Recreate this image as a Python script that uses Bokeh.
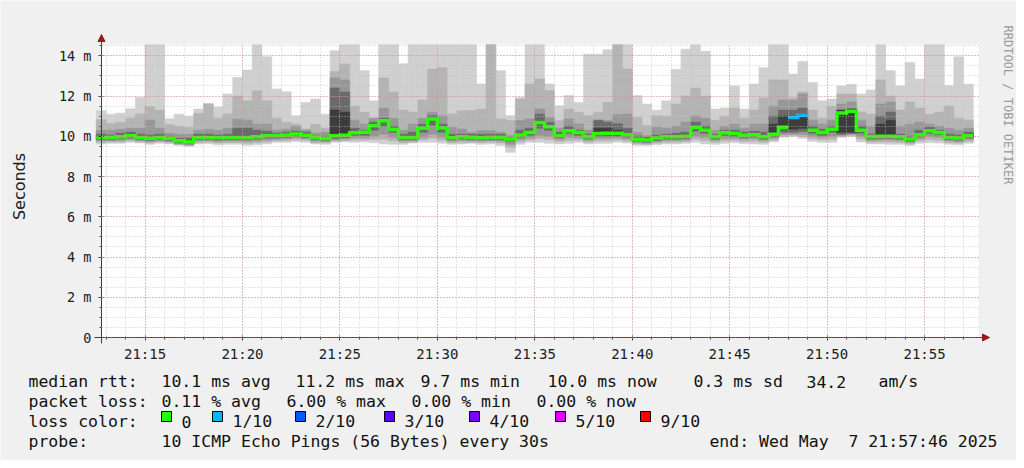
import math
import datetime as dt
from bokeh.plotting import figure
from bokeh.models import (Range1d, FixedTicker, DatetimeTickFormatter, Arrow, NormalHead)
from bokeh.embed import file_html
from bokeh.resources import INLINE
from bokeh.core.properties import value

# ---------------- data (30 s steps starting 21:12:30) ----------------
step_seconds = 30
first_step = (21, 12, 30)

median = [9.94, 9.94, 9.98, 10.02, 9.94, 9.90, 9.94, 9.90, 9.78, 9.72,
          9.94, 9.94, 9.92, 9.94, 9.94, 9.94, 9.97, 10.02, 10.02, 10.05,
          10.11, 10.05, 9.94, 9.89, 10.02, 10.05, 10.18, 10.20, 10.52, 10.77,
          10.34, 9.94, 9.94, 10.40, 10.86, 10.41, 9.93, 9.98, 9.95, 9.93,
          9.95, 9.95, 9.86, 10.06, 10.19, 10.69, 10.47, 10.03, 10.28, 10.19,
          9.98, 10.14, 10.15, 10.15, 10.08, 9.85, 9.81, 9.91, 9.97, 9.97,
          10.00, 10.45, 10.30, 9.97, 10.18, 10.14, 10.05, 10.07, 9.97, 10.10,
          10.45, 10.93, 11.05, 10.30, 10.19, 10.35, 11.15, 11.24, 10.30, 9.97,
          10.00, 10.00, 9.97, 9.86, 10.08, 10.28, 10.19, 9.94, 9.91, 10.02]

loss = [0, 0, 0, 0, 0, 0, 0, 0, 0, 0,
        0, 0, 0, 0, 0, 0, 0, 0, 0, 0,
        0, 0, 0, 0, 0, 0, 0, 0, 0, 0,
        0, 0, 0, 0, 0, 0, 0, 0, 0, 0,
        0, 0, 0, 0, 0, 0, 0, 0, 0, 0,
        0, 0, 0, 0, 0, 0, 0, 0, 0, 0,
        0, 0, 0, 0, 0, 0, 0, 0, 0, 0,
        0, 1, 1, 0, 0, 0, 0, 0, 0, 0,
        0, 0, 0, 0, 0, 0, 0, 0, 0, 0]

ping10 = [11.27, 11.10, 11.15, 11.37, 11.93, 14.55, 14.55, 10.87, 11.10, 11.00,
          11.35, 11.63, 11.45, 12.10, 12.92, 13.29, 14.55, 13.95, 12.35, 12.21,
          11.02, 11.68, 11.85, 11.10, 14.25, 14.55, 14.55, 13.26, 11.76, 14.55,
          14.55, 13.60, 14.55, 14.55, 14.55, 14.55, 14.55, 14.55, 14.55, 12.60,
          14.55, 13.26, 11.02, 11.93, 14.55, 14.55, 12.60, 11.52, 12.02, 11.68,
          14.08, 14.08, 14.30, 14.55, 14.55, 12.02, 11.60, 11.30, 11.76, 13.33,
          14.33, 14.55, 14.22, 11.35, 11.40, 12.50, 11.35, 12.60, 13.41, 14.55,
          14.55, 13.09, 13.72, 12.67, 11.76, 11.85, 12.50, 12.58, 12.10, 12.30,
          14.55, 13.26, 12.50, 13.67, 12.84, 14.55, 14.55, 12.51, 13.95, 12.59]
ping9 = [10.82, 10.64, 10.70, 10.90, 11.10, 11.47, 11.30, 10.57, 10.50, 10.45,
         11.13, 11.60, 10.90, 11.10, 12.00, 11.76, 12.26, 11.76, 10.90, 10.70,
         10.60, 10.36, 10.60, 10.40, 13.22, 13.59, 11.50, 11.20, 10.90, 12.90,
         12.20, 11.30, 11.20, 11.80, 13.34, 13.40, 11.10, 11.27, 11.27, 11.35,
         14.55, 10.86, 10.78, 11.85, 12.60, 12.84, 12.27, 10.78, 11.35, 11.19,
         11.02, 11.19, 11.68, 14.55, 13.34, 10.94, 10.53, 11.02, 11.00, 11.60,
         12.00, 12.40, 12.00, 10.80, 11.00, 11.40, 10.90, 11.30, 11.90, 12.80,
         12.80, 11.90, 12.20, 11.30, 10.90, 11.50, 12.10, 12.10, 11.20, 11.10,
         12.80, 12.00, 11.30, 11.70, 11.40, 11.10, 11.20, 11.50, 10.90, 10.80]
ping8 = [10.30, 10.30, 10.35, 10.40, 10.40, 10.80, 10.40, 10.15, 10.10, 10.10,
         10.30, 10.35, 10.30, 10.40, 10.85, 10.80, 10.60, 10.60, 10.30, 10.35,
         10.50, 10.30, 10.15, 10.20, 12.90, 12.80, 10.80, 10.60, 10.90, 11.40,
         10.90, 10.30, 10.60, 10.90, 11.19, 11.02, 10.45, 10.36, 10.19, 10.28,
         10.28, 10.19, 10.03, 10.78, 10.86, 11.35, 10.94, 10.40, 10.86, 10.61,
         10.31, 10.78, 10.78, 11.07, 11.10, 10.19, 10.03, 10.45, 10.40, 10.50,
         10.70, 11.00, 10.90, 10.30, 10.50, 10.60, 10.40, 10.60, 10.60, 11.50,
         11.80, 11.80, 12.10, 10.80, 10.60, 10.80, 11.60, 11.70, 10.80, 10.50,
         11.60, 11.70, 10.50, 10.60, 10.70, 10.60, 10.50, 10.40, 10.30, 10.40]
ping7 = [10.10, 10.05, 10.15, 10.20, 10.10, 10.05, 10.10, 10.00, 9.90, 9.90,
         10.10, 10.10, 10.05, 10.10, 10.40, 10.40, 10.30, 10.25, 10.15, 10.20,
         10.25, 10.20, 10.00, 10.00, 12.40, 12.20, 10.40, 10.30, 10.70, 10.90,
         10.50, 10.10, 10.20, 10.60, 11.02, 10.60, 10.10, 10.10, 10.10, 10.10,
         10.10, 10.10, 9.95, 10.30, 10.40, 11.10, 10.70, 10.20, 10.50, 10.30,
         10.10, 10.80, 10.70, 10.62, 10.40, 10.00, 9.95, 10.05, 10.10, 10.15,
         10.20, 10.70, 10.50, 10.10, 10.30, 10.30, 10.20, 10.25, 10.20, 11.00,
         11.30, 11.30, 11.40, 10.50, 10.35, 10.50, 11.30, 11.35, 10.50, 10.10,
         11.00, 11.20, 10.10, 10.00, 10.30, 10.45, 10.30, 10.10, 10.05, 10.20]
ping6 = [9.99, 9.99, 10.03, 10.07, 9.99, 9.95, 9.99, 9.95, 9.83, 9.78,
         9.99, 9.99, 9.97, 9.99, 10.00, 10.00, 10.03, 10.08, 10.07, 10.10,
         10.16, 10.10, 9.99, 9.95, 11.30, 11.20, 10.23, 10.25, 10.57, 10.82,
         10.39, 9.99, 9.99, 10.45, 10.92, 10.47, 9.98, 10.03, 10.00, 9.98,
         10.00, 10.00, 9.91, 10.11, 10.24, 10.75, 10.52, 10.08, 10.33, 10.24,
         10.03, 10.40, 10.40, 10.30, 10.13, 9.90, 9.86, 9.96, 10.02, 10.02,
         10.05, 10.50, 10.35, 10.02, 10.23, 10.19, 10.10, 10.12, 10.02, 10.60,
         11.00, 11.00, 11.10, 10.35, 10.24, 10.40, 11.30, 11.35, 10.35, 10.02,
         10.60, 10.80, 10.02, 9.91, 10.13, 10.33, 10.24, 9.99, 9.96, 10.07]
ping5 = [9.89, 9.89, 9.93, 9.97, 9.89, 9.85, 9.89, 9.85, 9.73, 9.67,
         9.89, 9.89, 9.87, 9.89, 9.89, 9.89, 9.92, 9.97, 9.97, 10.00,
         10.06, 10.00, 9.89, 9.84, 9.97, 10.00, 10.13, 10.15, 10.47, 10.72,
         10.29, 9.89, 9.89, 10.35, 10.81, 10.36, 9.88, 9.93, 9.90, 9.88,
         9.90, 9.90, 9.81, 10.01, 10.14, 10.64, 10.42, 9.98, 10.23, 10.14,
         9.93, 10.09, 10.10, 10.10, 10.03, 9.80, 9.76, 9.86, 9.92, 9.92,
         9.95, 10.40, 10.25, 9.92, 10.13, 10.09, 10.00, 10.02, 9.92, 10.05,
         10.40, 10.35, 10.40, 10.25, 10.14, 10.30, 10.20, 10.20, 10.25, 9.92,
         9.95, 9.95, 9.92, 9.81, 10.03, 10.23, 10.14, 9.89, 9.86, 9.97]
ping4 = [9.84, 9.84, 9.88, 9.92, 9.84, 9.80, 9.84, 9.80, 9.68, 9.63,
         9.84, 9.84, 9.82, 9.84, 9.84, 9.84, 9.87, 9.92, 9.92, 9.95,
         10.01, 9.95, 9.84, 9.80, 9.90, 9.94, 10.05, 10.05, 10.30, 10.50,
         10.20, 9.84, 9.84, 10.20, 10.55, 10.20, 9.83, 9.88, 9.85, 9.83,
         9.85, 9.85, 9.76, 9.96, 10.05, 10.40, 10.30, 9.93, 10.15, 10.05,
         9.88, 10.00, 10.00, 10.00, 9.96, 9.76, 9.71, 9.80, 9.87, 9.87,
         9.90, 10.25, 10.15, 9.87, 10.05, 10.00, 9.95, 9.97, 9.87, 9.98,
         10.20, 10.20, 10.25, 10.15, 10.05, 10.20, 10.10, 10.15, 10.15, 9.87,
         9.90, 9.90, 9.87, 9.76, 9.98, 10.15, 10.08, 9.84, 9.81, 9.92]
ping3 = [9.78, 9.78, 9.80, 9.85, 9.78, 9.74, 9.78, 9.74, 9.63, 9.58,
         9.78, 9.78, 9.75, 9.77, 9.77, 9.75, 9.78, 9.82, 9.85, 9.88,
         9.92, 9.88, 9.76, 9.74, 9.82, 9.86, 9.92, 9.92, 10.00, 10.10,
         9.95, 9.76, 9.78, 9.95, 10.10, 9.95, 9.76, 9.80, 9.78, 9.77,
         9.78, 9.76, 9.60, 9.85, 9.92, 10.05, 10.00, 9.85, 9.95, 9.92,
         9.80, 9.90, 9.90, 9.92, 9.86, 9.70, 9.66, 9.74, 9.80, 9.80,
         9.82, 10.00, 9.95, 9.80, 9.90, 9.90, 9.85, 9.88, 9.80, 9.90,
         10.10, 10.10, 10.10, 10.00, 9.95, 10.00, 10.05, 10.10, 10.00, 9.80,
         9.82, 9.82, 9.80, 9.70, 9.88, 9.98, 9.95, 9.78, 9.74, 9.85]
ping2 = [9.70, 9.72, 9.72, 9.78, 9.72, 9.67, 9.72, 9.68, 9.59, 9.54,
         9.70, 9.71, 9.67, 9.69, 9.69, 9.65, 9.68, 9.72, 9.78, 9.79,
         9.83, 9.80, 9.69, 9.67, 9.76, 9.79, 9.81, 9.82, 9.84, 9.85,
         9.78, 9.68, 9.72, 9.82, 9.90, 9.80, 9.68, 9.71, 9.70, 9.69,
         9.71, 9.67, 9.45, 9.73, 9.81, 9.88, 9.83, 9.74, 9.80, 9.81,
         9.71, 9.78, 9.78, 9.81, 9.76, 9.62, 9.60, 9.66, 9.71, 9.71,
         9.74, 9.85, 9.78, 9.70, 9.78, 9.79, 9.74, 9.75, 9.70, 9.81,
         10.02, 10.05, 10.00, 9.88, 9.83, 9.85, 10.00, 10.05, 9.86, 9.71,
         9.72, 9.71, 9.70, 9.62, 9.77, 9.83, 9.80, 9.69, 9.66, 9.75]
ping1 = [9.62, 9.65, 9.65, 9.70, 9.66, 9.60, 9.65, 9.62, 9.55, 9.50,
         9.62, 9.63, 9.58, 9.60, 9.60, 9.55, 9.58, 9.62, 9.70, 9.70,
         9.74, 9.70, 9.62, 9.60, 9.70, 9.72, 9.70, 9.72, 9.68, 9.62,
         9.60, 9.60, 9.66, 9.70, 9.70, 9.65, 9.60, 9.62, 9.65, 9.60,
         9.62, 9.55, 9.20, 9.60, 9.70, 9.70, 9.65, 9.62, 9.65, 9.70,
         9.62, 9.65, 9.65, 9.70, 9.66, 9.55, 9.55, 9.58, 9.62, 9.62,
         9.65, 9.70, 9.62, 9.60, 9.65, 9.68, 9.63, 9.62, 9.60, 9.72,
         9.95, 10.00, 9.90, 9.75, 9.70, 9.70, 9.95, 10.00, 9.72, 9.62,
         9.62, 9.60, 9.60, 9.55, 9.65, 9.68, 9.66, 9.60, 9.58, 9.65]

y_ticks = [0, 2, 4, 6, 8, 10, 12, 14]
y_tick_labels = ["0", "2 m", "4 m", "6 m", "8 m", "10 m", "12 m", "14 m"]
x_tick_times = ["21:15", "21:20", "21:25", "21:30", "21:35", "21:40", "21:45", "21:50", "21:55"]

loss_legend = ["0", "1/10", "2/10", "3/10", "4/10", "5/10", "9/10"]
loss_legend_colors = ["#26ff00", "#00b8ff", "#0059ff", "#5e00ff", "#7e00ff", "#dd00ff", "#ff0000"]
loss_line_colors = {0: "#26ff00", 1: "#00b8ff"}
smoke_colors = ["#d0d0d0", "#b4b4b4", "#979797", "#6a6a6a", "#3c3c3c"]

legend_rows = [
    [("median rtt:", 28), ("10.1 ms avg", 161), ("11.2 ms max", 295), ("9.7 ms min", 420),
     ("10.0 ms now", 547), ("0.3 ms sd", 693), ("34.2", 806), ("am/s", 878)],
    [("packet loss:", 28), ("0.11 % avg", 161), ("6.00 % max", 286), ("0.00 % min", 411),
     ("0.00 % now", 536)],
    [("loss color:", 28)],
    [("probe:", 28), ("10 ICMP Echo Pings (56 Bytes) every 30s", 161)],
]
# the double space before the day is kept visible with a no-break space
end_text = "end: Wed May \u00a07 21:57:46 2025"

n = min(len(v) for v in (median, loss, ping10, ping9, ping8, ping7, ping6,
                         ping5, ping4, ping3, ping2, ping1))

# ---------------- geometry ----------------
EPOCH = dt.datetime(1970, 1, 1)


def ms(hh, mm, ss=0):
    return (dt.datetime(2025, 5, 7, hh, mm, ss) - EPOCH).total_seconds() * 1000.0


def ms_hm(txt):
    hh, mm = txt.split(":")
    return ms(int(hh), int(mm))


t0 = ms(*first_step)
left = [t0 + i * step_seconds * 1000.0 for i in range(n)]
right = [t + step_seconds * 1000.0 for t in left]

view_start = ms(21, 12, 46)
view_end = ms(21, 57, 46)
span = view_end - view_start
y_canvas_top = 14.56

# screenshot pixels of the graph canvas
CX0, CX1 = 101.0, 978.0     # view_start .. view_end
CY0, CY1 = 337.0, 44.0      # 0 .. y_canvas_top
# where the figure's top-left corner lands on the screenshot
OFFX, OFFY = 0, 0
W, H = 1016, 460


def x_at(px):
    return view_start + (px - CX0) * span / (CX1 - CX0)


def y_at(py):
    return (CY0 - py) * y_canvas_top / (CY0 - CY1)


p = figure(width=W, height=H, x_axis_type="datetime",
           x_range=Range1d(x_at(OFFX), x_at(OFFX + W)),
           y_range=Range1d(y_at(OFFY + H), y_at(OFFY)),
           output_backend="svg", toolbar_location=None,
           min_border=0, min_border_left=0, min_border_right=0,
           min_border_top=0, min_border_bottom=0,
           background_fill_color="#f0f0f0", border_fill_color="#f0f0f0",
           outline_line_color=None)

# white canvas of the graph
p.quad(left=[view_start], right=[view_end], bottom=[0], top=[y_canvas_top],
       fill_color="white", line_color=None, level="underlay")

# smoke
bands = [(ping1, ping10), (ping2, ping9), (ping3, ping8), (ping4, ping7), (ping5, ping6)]
for (lo, hi), col in zip(bands, smoke_colors):
    p.quad(left=left, right=right, bottom=lo[:n], top=hi[:n], fill_color=col,
           line_color=col, line_width=0.6)

# median line, coloured by loss
runs = []
cur = None
for i in range(n):
    c = loss_line_colors[loss[i]]
    if cur is None or cur[0] != c:
        cur = [c, [], []]
        runs.append(cur)
    cur[1].extend([left[i], right[i]])
    cur[2].extend([median[i], median[i]])
for c, xs, ys in runs:
    p.line(xs, ys, line_color=c, line_width=3.5, line_join="miter", line_cap="butt")

# axes drawn at fixed data locations
x_major = [ms_hm(t) for t in x_tick_times]
x_minor = [view_start - (view_start % 60000) + 60000 * k for k in range(1, 46)]
y_minor = [0.5 * k for k in range(1, 30)]
xt = FixedTicker(ticks=x_major, minor_ticks=x_minor)
yt = FixedTicker(ticks=y_ticks, minor_ticks=y_minor)
p.xaxis.ticker = xt
p.yaxis.ticker = yt
p.xgrid.ticker = xt
p.ygrid.ticker = yt
fmt = "%H:%M"
p.xaxis.formatter = DatetimeTickFormatter(seconds=fmt, minsec=fmt, minutes=fmt, hourmin=fmt, hours=fmt)
p.yaxis.major_label_overrides = {t: l for t, l in zip(y_ticks, y_tick_labels)}
p.xaxis.fixed_location = 0
p.yaxis.fixed_location = view_start
p.xaxis.bounds = (x_at(94), x_at(986))
p.yaxis.bounds = (y_at(343), y_at(38))

for g in (p.xgrid, p.ygrid):
    g.grid_line_color = "#e07070"
    g.grid_line_alpha = 0.7
    g.grid_line_dash = "1 2"
    g.minor_grid_line_color = "#c0c0c0"
    g.minor_grid_line_alpha = 0.8
    g.minor_grid_line_dash = "1 2"
    g.level = "guide"
p.xgrid.bounds = (view_start, view_end)
p.ygrid.bounds = (0, y_canvas_top)
try:
    p.xgrid.cross_bounds = (0, y_canvas_top)
    p.ygrid.cross_bounds = (view_start, view_end)
except Exception:
    pass

for ax in (p.xaxis, p.yaxis):
    ax.axis_line_color = "#404040"
    ax.major_tick_line_color = "#404040"
    ax.minor_tick_line_color = "#404040"
    ax.major_tick_in = 2
    ax.major_tick_out = 3
    ax.minor_tick_in = 1
    ax.minor_tick_out = 2
    ax.major_label_text_font = "DejaVu Sans Mono"
    ax.major_label_text_color = "#202020"
p.xaxis.major_label_text_font_size = "14px"
p.xaxis.major_label_standoff = 5
p.yaxis.major_label_text_font_size = "13.5px"
p.yaxis.major_label_standoff = 7

FONT = "DejaVu Sans Mono"
p.text(x=[x_at(19)], y=[y_at(186)], text=["Seconds"], angle=math.pi / 2,
       text_align="center", text_baseline="middle", text_font=value("DejaVu Sans"),
       text_font_size=value("16px"), text_color="#202020")

arrow_col = "#9a1a1a"
p.add_layout(Arrow(end=NormalHead(size=7, fill_color=arrow_col, line_color=arrow_col),
                   x_start=view_start, y_start=y_at(42), x_end=view_start,
                   y_end=y_at(34), line_alpha=0))
p.add_layout(Arrow(end=NormalHead(size=7, fill_color=arrow_col, line_color=arrow_col),
                   x_start=x_at(980), y_start=0, x_end=x_at(989),
                   y_end=0, line_alpha=0))

p.text(x=[x_at(1007)], y=[y_at(25)], text=["RRDTOOL / TOBI OETIKER"],
       angle=-math.pi / 2, text_align="left", text_baseline="middle",
       text_font=value(FONT), text_font_size=value("12px"), text_color="#9a9a9a")

# ---------------- legend block ----------------
baselines = [381, 401, 421, 441]
tx, ty, tt = [], [], []
for row, base in zip(legend_rows, baselines):
    for txt, px in row:
        tx.append(x_at(px))
        ty.append(y_at(base))
        tt.append(txt)
sq_x = [166, 217, 300, 389, 474, 560, 645]
for lab, px in zip(loss_legend, sq_x):
    tx.append(x_at(px + 15))
    ty.append(y_at(baselines[2]))
    tt.append(lab)
p.text(x=tx, y=ty, text=tt, text_font=value(FONT), text_font_size=value("16.5px"),
       text_baseline="alphabetic", text_align="left", text_color="#111111")
p.text(x=[x_at(997)], y=[y_at(baselines[3])], text=[end_text], text_font=value(FONT),
       text_font_size=value("16.5px"), text_baseline="alphabetic", text_align="right",
       text_color="#111111")
p.rect(x=[x_at(px) for px in sq_x], y=[y_at(416)] * len(sq_x), width=10, height=10,
       width_units="screen", height_units="screen",
       fill_color=loss_legend_colors, line_color="black", line_width=1)

open("out.html", "w").write(file_html(p, INLINE))
